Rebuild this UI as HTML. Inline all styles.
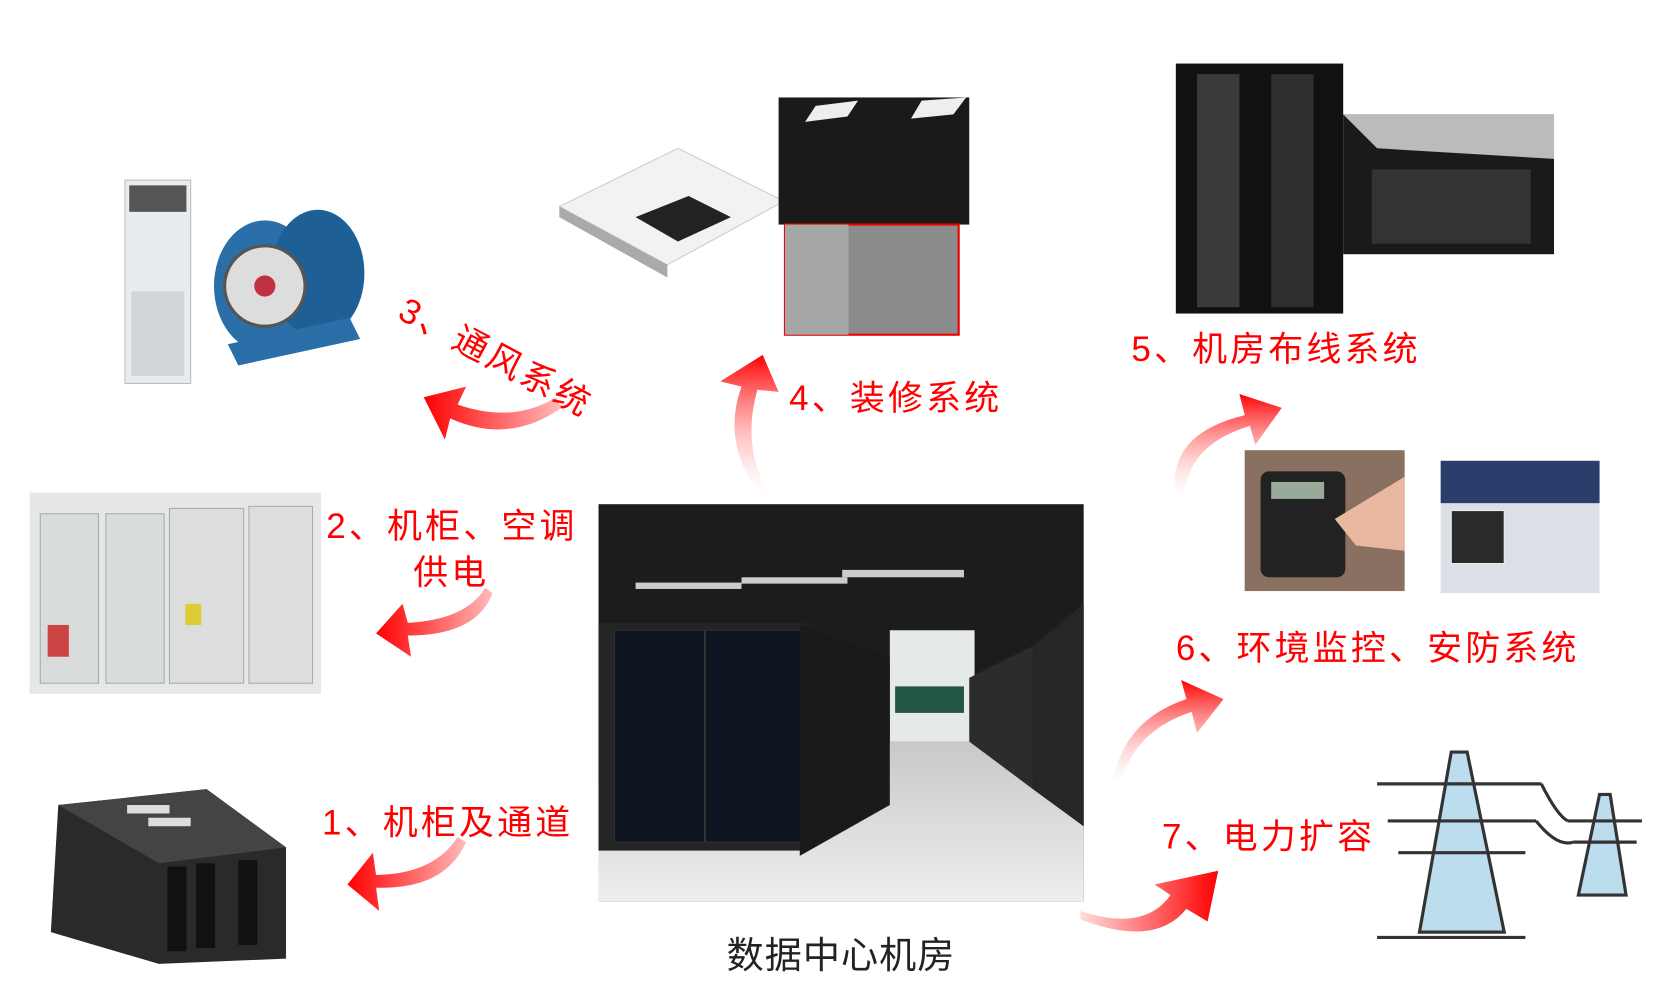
<!DOCTYPE html>
<html><head><meta charset="utf-8"><style>
html,body{margin:0;padding:0;background:#fff;}
svg{display:block;}
text{font-family:"Liberation Sans","Noto Sans CJK SC",sans-serif;}
</style></head><body>
<svg width="1661" height="1001" viewBox="0 0 1568 945" preserveAspectRatio="none" xmlns="http://www.w3.org/2000/svg">
<defs>
<linearGradient id="ga" x1="0" y1="1" x2="0" y2="0"><stop offset="0" stop-color="#fff" stop-opacity="0.2"/><stop offset="1" stop-color="#f00"/></linearGradient>
<linearGradient id="gl" x1="1" y1="0" x2="0" y2="0"><stop offset="0" stop-color="#fbb"/><stop offset="1" stop-color="#f00"/></linearGradient>
<linearGradient id="gr" x1="0" y1="0" x2="1" y2="0"><stop offset="0" stop-color="#fdd"/><stop offset="1" stop-color="#f00"/></linearGradient>
<linearGradient id="floor" x1="0" y1="0" x2="0" y2="1"><stop offset="0" stop-color="#c8c8c8"/><stop offset="1" stop-color="#eeeeee"/></linearGradient>
</defs>

<!-- central photo -->
<rect x="565" y="476" width="458" height="375" fill="#1c1c1c"/>
<polygon points="565,740 840,700 915,700 1023,780 1023,851 565,851" fill="url(#floor)"/>
<rect x="840" y="595" width="80" height="105" fill="#e6e9ea"/>
<rect x="845" y="648" width="65" height="25" fill="#254"/>
<rect x="565" y="588" width="195" height="215" fill="#242424"/>
<rect x="580" y="595" width="85" height="200" fill="#0e1420" stroke="#333"/>
<rect x="666" y="595" width="90" height="200" fill="#0e1420" stroke="#333"/>
<polygon points="755,590 840,620 840,760 755,808" fill="#1a1a1a"/>
<polygon points="975,610 1023,570 1023,780 975,745" fill="#262626"/>
<polygon points="915,640 975,610 975,745 915,700" fill="#2c2c2c"/>
<rect x="600" y="550" width="100" height="6" fill="#ccc"/>
<rect x="700" y="545" width="100" height="6" fill="#ccc"/>
<rect x="795" y="538" width="115" height="7" fill="#ccc"/>

<!-- AC unit -->
<rect x="118" y="170" width="62" height="192" fill="#e8ecef" stroke="#bbb"/>
<rect x="122" y="175" width="54" height="25" fill="#555"/>
<rect x="124" y="275" width="50" height="80" fill="#d0d6da"/>
<!-- fan -->
<ellipse cx="250" cy="270" rx="48" ry="62" fill="#2a6fa8"/>
<ellipse cx="300" cy="258" rx="44" ry="60" fill="#1e5f96"/>
<circle cx="250" cy="270" r="38" fill="#ddd" stroke="#555" stroke-width="3"/>
<circle cx="250" cy="270" r="10" fill="#c03040"/>
<polygon points="215,325 330,300 340,320 225,345" fill="#2a6fa8"/>

<!-- floor tile -->
<polygon points="528,195 640,140 740,190 630,250" fill="#f2f2f2" stroke="#ccc"/>
<polygon points="528,195 630,250 630,262 528,205" fill="#aaa"/>
<polygon points="600,205 650,185 690,205 640,228" fill="#222"/>
<!-- decor photos -->
<rect x="735" y="92" width="180" height="120" fill="#1a1a1a"/>
<polygon points="770,100 810,95 800,110 760,115" fill="#eee"/>
<polygon points="870,95 912,92 900,108 860,112" fill="#eee"/>
<rect x="741" y="212" width="164" height="104" fill="#8a8c8c" stroke="#e00" stroke-width="2"/>
<rect x="741" y="212" width="60" height="104" fill="#a5a7a7"/>

<!-- cabling photos -->
<rect x="1110" y="60" width="158" height="236" fill="#111"/>
<rect x="1130" y="70" width="40" height="220" fill="#3a3a3a"/>
<rect x="1200" y="70" width="40" height="220" fill="#2f2f2f"/>
<rect x="1268" y="108" width="199" height="132" fill="#1a1a1a"/>
<polygon points="1268,108 1467,108 1467,150 1300,140" fill="#bbb"/>
<rect x="1295" y="160" width="150" height="70" fill="#333"/>

<!-- security -->
<rect x="1175" y="425" width="151" height="133" fill="#8a7060"/>
<rect x="1190" y="445" width="80" height="100" rx="8" fill="#222"/>
<rect x="1200" y="455" width="50" height="16" fill="#9a9"/>
<polygon points="1260,490 1326,450 1326,520 1280,515" fill="#e8b8a0"/>
<rect x="1360" y="435" width="150" height="125" fill="#dcdfe6"/>
<rect x="1360" y="435" width="150" height="40" fill="#2b3d6a"/>
<rect x="1370" y="482" width="50" height="50" fill="#2a2a2a" stroke="#eee"/>

<!-- electrical cabinet -->
<rect x="28" y="465" width="275" height="190" fill="#e6e8e8"/>
<rect x="38" y="485" width="55" height="160" fill="#d8dcdc" stroke="#aaa"/>
<rect x="100" y="485" width="55" height="160" fill="#d8dcdc" stroke="#aaa"/>
<rect x="160" y="480" width="70" height="165" fill="#dcdede" stroke="#aaa"/>
<rect x="235" y="478" width="60" height="167" fill="#dcdede" stroke="#aaa"/>
<rect x="45" y="590" width="20" height="30" fill="#c44"/>
<rect x="175" y="570" width="15" height="20" fill="#dc3"/>

<!-- racks -->
<polygon points="55,760 195,745 270,800 270,905 150,910 48,880" fill="#2a2a2a"/>
<polygon points="55,760 195,745 270,800 150,815" fill="#444"/>
<rect x="158" y="818" width="18" height="80" fill="#111"/>
<rect x="185" y="815" width="18" height="80" fill="#111"/>
<rect x="225" y="812" width="18" height="80" fill="#111"/>
<rect x="120" y="760" width="40" height="8" fill="#ddd"/>
<rect x="140" y="772" width="40" height="8" fill="#ddd"/>

<!-- power towers -->
<g stroke="#333" stroke-width="3" fill="#bde" >
<polygon points="1370,710 1340,880 1420,880 1385,710"/>
<line x1="1300" y1="740" x2="1455" y2="740"/>
<line x1="1310" y1="775" x2="1450" y2="775"/>
<line x1="1320" y1="805" x2="1440" y2="805"/>
<polygon points="1510,750 1490,845 1535,845 1520,750"/>
<line x1="1480" y1="775" x2="1550" y2="775"/>
<line x1="1485" y1="795" x2="1545" y2="795"/>
<path d="M1455,740 Q1470,770 1480,775 M1450,775 Q1470,800 1485,795" fill="none"/>
<line x1="1300" y1="885" x2="1440" y2="885"/>
</g>

<!-- arrows -->
<g>
<path d="M530,385 Q480,420 425,395 L420,415 L400,375 L440,365 L432,382 Q485,400 525,375Z" fill="url(#gl)"/>
<path d="M720,470 Q680,420 700,365 L680,360 L720,335 L735,370 L715,368 Q700,420 725,465Z" fill="url(#ga)"/>
<path d="M465,560 Q450,600 385,600 L388,620 L355,598 L380,570 L385,588 Q440,585 458,555Z" fill="url(#gl)"/>
<path d="M440,795 Q420,840 355,838 L358,860 L328,835 L352,805 L355,826 Q410,825 432,790Z" fill="url(#gl)"/>
<path d="M1110,470 Q1100,410 1175,392 L1170,372 L1210,385 L1185,420 L1180,402 Q1120,420 1118,470Z" fill="url(#ga)"/>
<path d="M1050,740 Q1060,680 1120,660 L1115,642 L1155,660 L1130,692 L1125,672 Q1070,690 1058,740Z" fill="url(#ga)"/>
<path d="M1020,860 Q1080,880 1105,845 L1090,835 L1150,822 L1140,870 L1120,858 Q1090,895 1020,868Z" fill="url(#gr)"/>
</g>

<!-- labels -->
<g fill="#f00" font-size="33" letter-spacing="3">
<text x="374" y="300" transform="rotate(28 374 300)">3、通风系统</text>
<text x="745" y="387">4、装修系统</text>
<text x="1068" y="341">5、机房布线系统</text>
<text x="308" y="508">2、机柜、空调</text>
<text x="390" y="552">供电</text>
<text x="1110" y="623">6、环境监控、安防系统</text>
<text x="304" y="788">1、机柜及通道</text>
<text x="1097" y="801">7、电力扩容</text>
</g>
<text x="686" y="914" font-size="35" letter-spacing="1" fill="#222">数据中心机房</text>
</svg>
</body></html>
